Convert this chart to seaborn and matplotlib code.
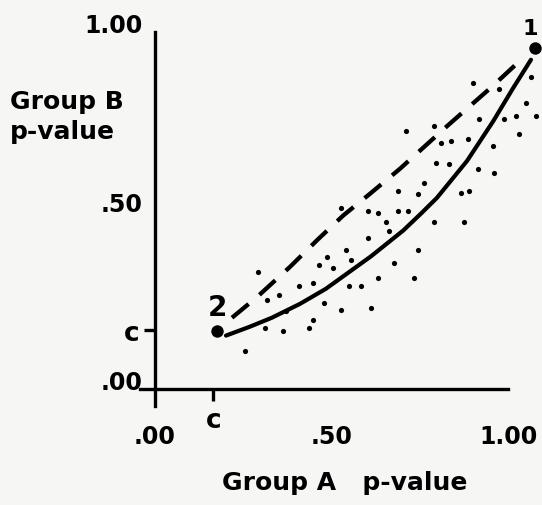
import numpy as np
import pandas as pd
import matplotlib.pyplot as plt
import seaborn as sns

# critical value "c" on both axes
c_val = 0.165

# solid curve
solid_x = [0.201, 0.269, 0.331, 0.411, 0.484, 0.612, 0.703, 0.754, 0.799, 0.884, 0.958, 1.014, 1.065]
solid_y = [0.150, 0.175, 0.200, 0.239, 0.281, 0.372, 0.444, 0.492, 0.536, 0.639, 0.750, 0.842, 0.922]

# dashed line
dash_x = [0.218, 0.289, 0.382, 0.459, 0.533, 0.609, 0.694, 0.827, 0.955, 1.040]
dash_y = [0.200, 0.258, 0.342, 0.417, 0.486, 0.547, 0.617, 0.736, 0.847, 0.925]

# scattered points
dots_x = [0.901, 0.975, 1.065, 1.051, 1.079, 1.031, 1.023, 0.989, 0.918, 0.958,
          0.915, 0.960, 0.887, 0.839, 0.810, 0.790, 0.711, 0.796, 0.833, 0.762,
          0.688, 0.745, 0.867, 0.890, 0.875, 0.790, 0.717, 0.688, 0.632, 0.603,
          0.654, 0.663, 0.603, 0.527, 0.541, 0.745, 0.465, 0.504, 0.555, 0.677,
          0.734, 0.632, 0.584, 0.550, 0.448, 0.408, 0.351, 0.479, 0.527, 0.612,
          0.448, 0.371, 0.363, 0.436, 0.487, 0.292, 0.255, 0.312, 0.317]
dots_y = [0.856, 0.839, 0.875, 0.800, 0.764, 0.714, 0.764, 0.756, 0.756, 0.681,
          0.617, 0.606, 0.700, 0.694, 0.689, 0.736, 0.722, 0.633, 0.631, 0.578,
          0.556, 0.547, 0.550, 0.556, 0.467, 0.467, 0.500, 0.500, 0.494, 0.500,
          0.467, 0.444, 0.422, 0.506, 0.389, 0.389, 0.347, 0.339, 0.361, 0.353,
          0.311, 0.311, 0.289, 0.289, 0.297, 0.289, 0.264, 0.242, 0.222, 0.228,
          0.194, 0.219, 0.164, 0.172, 0.369, 0.328, 0.108, 0.172, 0.250]

# the two numbered end points
ends_x = [1.076, 0.176]
ends_y = [0.956, 0.164]
end_labels = ["1", "2"]

sns.set_theme(style="white")
plt.rcParams["font.family"] = ["DejaVu Sans"]
plt.rcParams["font.weight"] = "bold"

solid_df = pd.DataFrame({"A": solid_x, "B": solid_y})
dash_df = pd.DataFrame({"A": dash_x, "B": dash_y})
dots_df = pd.DataFrame({"A": dots_x, "B": dots_y})
ends_df = pd.DataFrame({"A": ends_x, "B": ends_y, "label": end_labels})

bg = "#f6f6f4"
fig = plt.figure(figsize=(5.42, 5.06), dpi=100, facecolor=bg)
ax = fig.add_axes([0.2587, 0.1957, 0.6786, 0.7393])
ax.set_facecolor("none")

sns.lineplot(data=solid_df, x="A", y="B", ax=ax, color="black", lw=3.0,
             sort=False, errorbar=None, clip_on=False)
sns.lineplot(data=dash_df, x="A", y="B", ax=ax, color="black", lw=3.1,
             sort=False, errorbar=None, linestyle=(0, (5, 3.3)), clip_on=False)
sns.scatterplot(data=dots_df, x="A", y="B", ax=ax, color="black", s=14,
                linewidth=0, clip_on=False)
sns.scatterplot(data=ends_df, x="A", y="B", ax=ax, color="black", s=80,
                linewidth=0, clip_on=False, zorder=5)

# point labels: "1" above its point, "2" above its point
offsets = {"1": (-3, 14), "2": (0, 17)}
sizes = {"1": 16, "2": 20}
for _, r in ends_df.iterrows():
    ax.annotate(r["label"], (r["A"], r["B"]), xytext=offsets[r["label"]],
                textcoords="offset points", ha="center", va="center",
                fontsize=sizes[r["label"]], fontweight="bold", color="black",
                annotation_clip=False)

# axes drawn as crossing lines through the origin
ax.set_xlim(-0.042, 1.0)
ax.set_ylim(-0.047, 0.992)
for side in ["top", "right"]:
    ax.spines[side].set_visible(False)
for side in ["left", "bottom"]:
    ax.spines[side].set_position(("data", 0))
    ax.spines[side].set_color("black")
    ax.spines[side].set_linewidth(2.4)

ax.set_xticks([0, 0.5, 1.0], [".00", ".50", "1.00"])
ax.set_xticks([c_val], ["c"], minor=True)
ax.set_yticks([0, 0.5, 1.0], [".00", ".50", "1.00"])
ax.set_yticks([c_val], ["c"], minor=True)

ax.tick_params(axis="x", which="major", length=0, pad=25, labelsize=17, colors="black")
ax.tick_params(axis="x", which="minor", bottom=True, length=8.6, width=2.4,
               direction="out", pad=4, labelsize=19, colors="black")
ax.tick_params(axis="y", which="major", length=0, pad=9, labelsize=17, colors="black")
ax.tick_params(axis="y", which="minor", left=True, length=8, width=2.4,
               direction="out", pad=3, labelsize=19, colors="black")
for lab in ax.get_yticklabels():
    lab.set_va("baseline")

ax.set_xlabel("Group A   p-value", fontsize=18, fontweight="bold", color="black")
ax.xaxis.set_label_coords(0.557, -0.171)
ax.set_ylabel("Group B\np-value", fontsize=18, fontweight="bold", color="black",
              rotation=0, ha="left", va="center", linespacing=1.35)
ax.yaxis.set_label_coords(-0.354, 0.775)

fig.savefig("out.png", dpi=100, facecolor=bg)
